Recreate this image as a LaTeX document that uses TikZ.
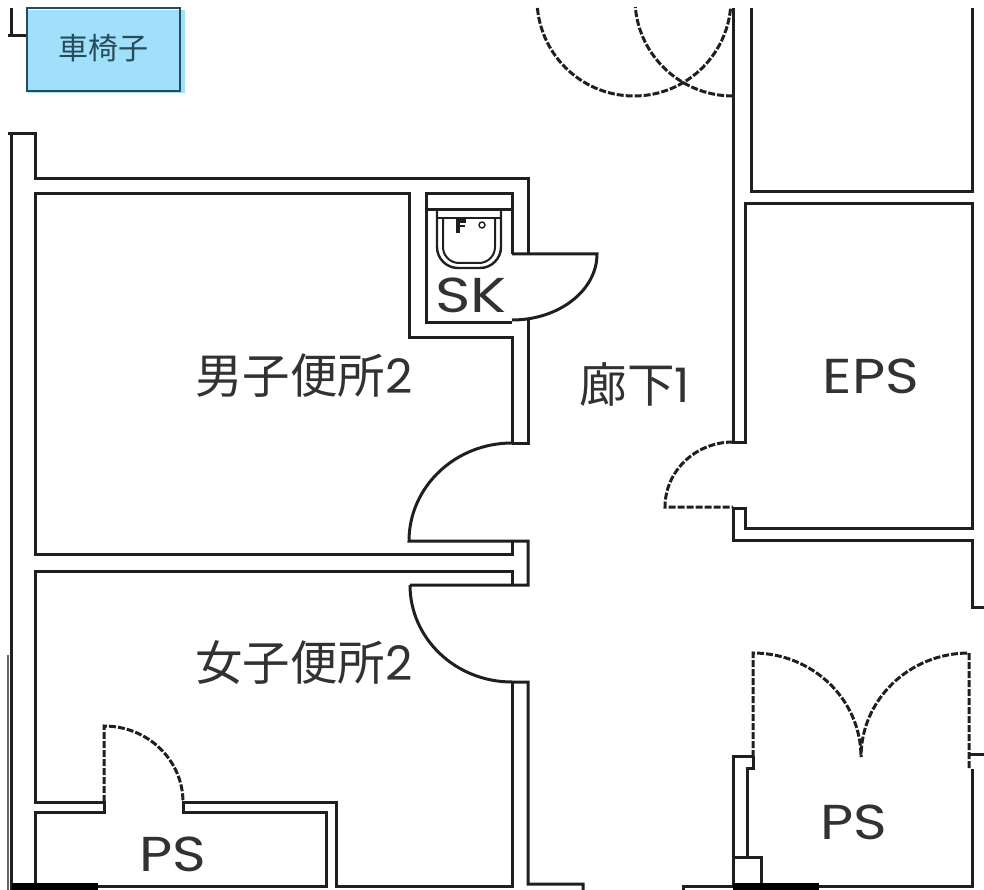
\documentclass[tikz,border=0pt]{standalone}
\usepackage{fontspec}
\newfontfamily\cjk{Noto Sans CJK JP}
\newfontfamily\latin{Poppins}
\definecolor{boxblue}{RGB}{160,224,250}
\definecolor{inkgray}{RGB}{50,50,50}
\definecolor{boxink}{RGB}{40,75,90}
\begin{document}
\begin{tikzpicture}[x=1pt,y=-1pt]

\tikzstyle{every node}=[font=\cjk,inner sep=0pt]
\tikzstyle{wall}=[line width=3pt,black!88,line join=miter]
\tikzstyle{swing}=[line width=3pt,black!88,dash pattern=on 7pt off 2pt]
\tikzstyle{roomlabel}=[text=inkgray,font=\cjk\fontsize{47.5}{47.5}\selectfont]
\tikzstyle{shortlabel}=[text=inkgray,font=\latin\fontsize{49}{49}\selectfont,xscale=1.17,transform shape]

\useasboundingbox (0,0) rectangle (984,890);

\draw[wall] (11,8) -- (11,36) (8,36) -- (27,36);
\fill[boxblue] (28,10) rectangle (185,93);
\draw[line width=1.4pt,boxink] (27,8) rectangle (180,91);
\node[text=boxink,font=\cjk\fontsize{30}{30}\selectfont] (wheelchair) at (103,48) {車椅子};

% outer wall, men
\draw[wall] (8,134) -- (35,134) -- (35,179) -- (528,179) -- (528,254);
\draw[wall] (11,134) -- (11,890);
\draw[line width=1.2pt,black!60] (8,655) -- (8,890);
\draw[wall] (512,443) -- (512,337) -- (409,337) -- (409,194) -- (35,194) -- (35,554) -- (512,554) -- (512,541);
\draw[wall] (528,320) -- (528,443) -- (512,443);

% SK
\draw[wall] (512,254) -- (512,194) -- (426,194) -- (426,322) -- (512,322);
\draw[wall] (426,210) -- (512,210);
\draw[wall] (512,254) -- (597,254) arc[start angle=0,end angle=90,x radius=85,y radius=66];
\draw[line width=2.4pt,black!88] (437,210) -- (437,247) arc[start angle=180,end angle=90,radius=21] -- (480,268) arc[start angle=90,end angle=0,radius=21] -- (501,210);
\draw[line width=2pt,black!88] (443,218) -- (443,247) arc[start angle=180,end angle=90,radius=16] -- (479,263) arc[start angle=90,end angle=0,radius=16] -- (495,218);
\draw[line width=1.6pt,black!88] (437,218) -- (501,218);
\draw[line width=3.6pt,black!88] (458,233) -- (458,221) -- (466,221);
\draw[line width=1.6pt,black!88] (460,226) -- (465,226);
\draw[line width=1.4pt,black!88] (482,225) circle[radius=3];
\node[shortlabel,xscale=1.05] (sk) at (471,295) {SK};

% toilet doors
\draw[wall] (512,443) arc[start angle=270,end angle=180,x radius=103,y radius=98] -- (528,541) -- (528,585) -- (410,585);
\draw[wall] (410,585) arc[start angle=180,end angle=90,x radius=102,y radius=97] -- (528,682) -- (528,884) -- (583,884) -- (583,890);
\draw[wall] (512,682) -- (512,886) -- (336,886) -- (336,802) -- (183,802) -- (183,812) -- (326,812) -- (326,886) -- (35,886) -- (35,812) -- (104,812) -- (104,802) -- (35,802) -- (35,571) -- (512,571) -- (512,585);

% PS, left
\draw[swing] (104,802) -- (104,726) arc[start angle=270,end angle=360,x radius=79,y radius=76];
\fill[black] (12,883) rectangle (98,890);
\node[shortlabel] (psleft) at (173,854) {PS};

% corridor
\node[roomlabel] (men) at (304,376) {男子便所{\latin 2}};
\node[roomlabel] (women) at (304,663) {女子便所{\latin 2}};
\node[roomlabel] (corridor) at (635,385) {廊下{\latin 1}};

\begin{scope}
\clip (500,8) rectangle (740,120);
\draw[swing] (634,-1) ++(180:97) arc[start angle=180,end angle=0,radius=97];
\draw[swing] (733,96) arc[start angle=90,end angle=180,x radius=98,y radius=97];
\end{scope}

% EPS
\draw[wall] (733,8) -- (733,442) -- (745,442) -- (745,204) -- (972,204) -- (972,528) -- (745,528) -- (745,508) -- (733,508) -- (733,540) -- (972,540) -- (972,607) -- (984,607);
\draw[wall] (751,8) -- (751,192) -- (972,192) -- (972,8);
\draw[swing] (733,442) arc[start angle=270,end angle=180,x radius=68,y radius=65] -- (733,507);
\node[shortlabel] (eps) at (871,376) {EPS};

% PS, right
\draw[swing] (753,757) -- (753,653) arc[start angle=270,end angle=360,x radius=108,y radius=104] -- (861,757);
\draw[swing] (969,768) -- (969,653) arc[start angle=270,end angle=180,x radius=108,y radius=104];
\draw[wall] (753,756) -- (733,756) -- (733,886);
\draw[wall] (753,756) -- (753,768) -- (747,768) -- (747,857);
\draw[wall] (733,857) rectangle (761,886);
\draw[wall] (683,890) -- (683,886) -- (972,886) -- (972,769);
\draw[wall] (969,754) -- (984,754);
\fill[black] (733,883) rectangle (819,890);
\node[shortlabel] (psright) at (854,822) {PS};

\end{tikzpicture}
\end{document}
